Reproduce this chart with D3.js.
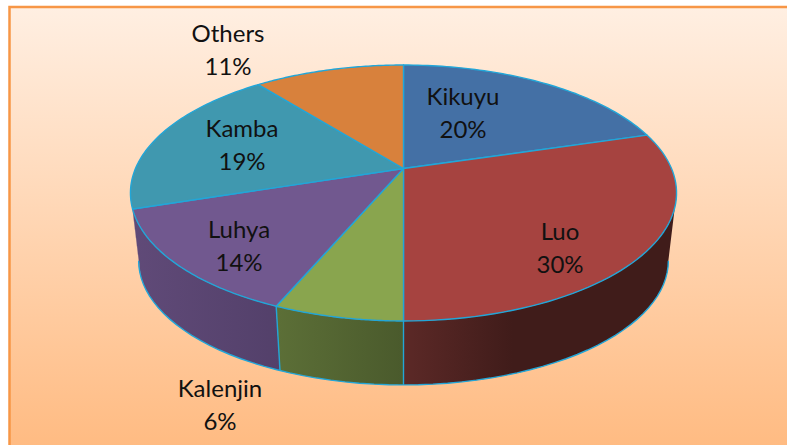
<!DOCTYPE html>
<html>
<head>
<meta charset="utf-8">
<script src="https://cdn.jsdelivr.net/npm/d3@7"></script>
<style>
html, body { margin: 0; padding: 0; background: #fff; }
svg { display: block; }
text { font-family: Lato, "Open Sans", sans-serif; font-size: 24px; fill: #111; text-anchor: middle; }
</style>
</head>
<body>
<svg id="chart" width="787" height="445"></svg>
<script>
const categories = ["Kikuyu", "Luo", "Kalenjin", "Luhya", "Kamba", "Others"];
const shares = [20.4, 29.6, 6.4, 13.6, 19.3, 10.7];
const topColors = ["#4470a5", "#a64340", "#89a54e", "#71588f", "#4098af", "#d8813c"];
const wallStops = [
    [[0, "#2f4e73"], [1, "#2f4e73"]],
    [[0, "#5c2927"], [0.4, "#401c1a"], [1, "#401c1a"]],
    [[0, "#5c6f37"], [1, "#4a5a2c"]],
    [[0, "#604a78"], [1, "#53406a"]],
    [[0, "#604a78"], [1, "#604a78"]],
    [[0, "#975a2a"], [1, "#975a2a"]]
];
const labelPos = [[463, 105], [560, 240], [220, 397], [239, 238], [242, 137], [228, 42]];
const rimStroke = "#22a6d8";

const svg = d3.select("#chart");
const defs = svg.append("defs");

const bg = defs.append("linearGradient").attr("id", "bg").attr("x1", 0).attr("y1", 0).attr("x2", 0).attr("y2", 1);
bg.append("stop").attr("offset", "0%").attr("stop-color", "#ffefe2");
bg.append("stop").attr("offset", "100%").attr("stop-color", "#ffbb82");

svg.append("rect")
    .attr("x", 9.5).attr("y", 7)
    .attr("width", 790).attr("height", 440)
    .attr("fill", "url(#bg)")
    .attr("stroke", "#f79646")
    .attr("stroke-width", 2.5);

// perspective view of a flat disc, k is how much the near edge grows
const k = 0.1914;
const cx = 403.5, cy = 168.5, R = 268, S = 123.3;
const rimTop = t => {
    const u = Math.sin(t), v = -Math.cos(t), w = 1 - k * v;
    return [cx + R * u / w, cy + S * v / w];
};
const rimBottom = t => {
    const u = Math.sin(t), v = -Math.cos(t), w = 1 - k * v;
    return [cx + 0.97 * R * u / w, cy + 68.5 + 0.97 * S * v / w];
};

const arcs = d3.pie().sort(null).value(d => d)(shares);
const line = d3.line();
const samples = (a, b) => d3.range(0, 61).map(i => a + (b - a) * i / 60);

const tilt = Math.acos(-k);
const frontStart = tilt, frontEnd = 2 * Math.PI - tilt;

// walls first, only the part facing the viewer
arcs.forEach((d, i) => {
    const a = Math.max(d.startAngle, frontStart), b = Math.min(d.endAngle, frontEnd);
    if (a >= b) return;
    const ts = samples(a, b);
    const pts = ts.map(rimTop).concat(ts.slice().reverse().map(rimBottom));
    const xs = d3.extent(pts, p => p[0]);
    const grad = defs.append("linearGradient")
        .attr("id", "wall" + i)
        .attr("gradientUnits", "userSpaceOnUse")
        .attr("x1", xs[0]).attr("x2", xs[1]).attr("y1", 0).attr("y2", 0);
    wallStops[i].forEach(s => grad.append("stop").attr("offset", s[0]).attr("stop-color", s[1]));
    svg.append("path")
        .attr("d", line(pts) + "Z")
        .attr("fill", `url(#wall${i})`);
});

// lower rim and the two seams on the front of the wall
svg.append("path")
    .attr("d", line(samples(frontStart, frontEnd).map(rimBottom)))
    .attr("fill", "none")
    .attr("stroke", rimStroke)
    .attr("stroke-width", 1.4);
[arcs[2].startAngle, arcs[3].startAngle].forEach(t => {
    svg.append("path")
        .attr("d", line([rimTop(t), rimBottom(t)]))
        .attr("stroke", rimStroke)
        .attr("stroke-width", 1.4);
});

// top face
arcs.forEach((d, i) => {
    const pts = [[cx, cy]].concat(samples(d.startAngle, d.endAngle).map(rimTop));
    svg.append("path")
        .attr("d", line(pts) + "Z")
        .attr("fill", topColors[i])
        .attr("stroke", rimStroke)
        .attr("stroke-width", 1.4)
        .attr("stroke-linejoin", "round");
});

const pct = d3.format(".0f");
categories.forEach((name, i) => {
    const t = svg.append("text").attr("transform", `translate(${labelPos[i][0]},${labelPos[i][1]})`);
    t.append("tspan").attr("x", 0).attr("y", 0).text(name);
    t.append("tspan").attr("x", 0).attr("y", 33).text(pct(shares[i]) + "%");
});
</script>
</body>
</html>
